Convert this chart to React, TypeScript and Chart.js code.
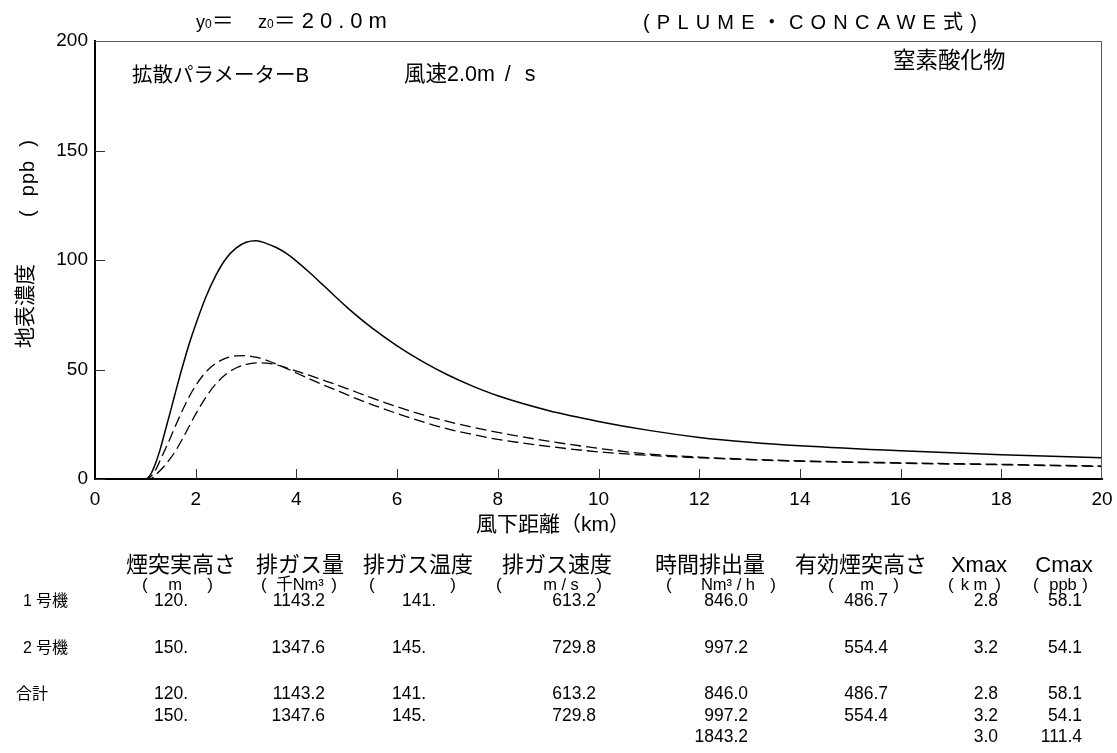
import React, { useEffect, useRef } from 'react';
import { Chart, registerables } from 'chart.js';

Chart.register(...registerables);

// ---------------- DATA ----------------
const distanceKm = [0, 0.5, 1.0, 1.1, 1.2, 1.3, 1.4, 1.5, 1.6, 1.7, 1.8, 1.9, 2.0, 2.2, 2.4, 2.6, 2.8, 3.0, 3.2, 3.4, 3.6, 3.8, 4.0, 4.25, 4.5, 4.75, 5.0, 5.5, 6.0, 6.5, 7.0, 7.5, 8.0, 9.0, 10.0, 11.0, 12.0, 13.0, 14.0, 16.0, 18.0, 20.0];
const totalPpb = [0, 0, 0, 2, 7, 14, 22.5, 31, 39.8, 48.3, 56.3, 63.8, 70.6, 83, 93, 100.6, 105.4, 108.1, 108.8, 107.6, 105.7, 103.0, 99.5, 94.5, 89.2, 83.8, 78.5, 69.0, 60.8, 53.7, 47.6, 42.4, 38.0, 31.3, 26.3, 22.2, 19.0, 16.8, 15.2, 12.9, 11.1, 9.7];
const unit1Ppb = [0, 0, 0, 1, 4, 8.8, 13.8, 19, 24.3, 29.5, 34.4, 38.8, 42.7, 48.8, 52.8, 55.2, 56.2, 56.3, 55.6, 54.3, 52.5, 50.5, 48.4, 45.8, 43.3, 40.9, 38.5, 34.0, 29.9, 26.2, 22.9, 20.3, 18.1, 14.9, 12.4, 10.8, 9.7, 8.8, 8.1, 7.2, 6.5, 5.7];
const unit2Ppb = [0, 0, 0, 0, 1.8, 4, 6.5, 9.5, 12.8, 16.8, 21, 25.4, 29.6, 37.3, 43.4, 47.8, 50.7, 52.3, 53, 52.9, 52.1, 50.8, 49.3, 47.4, 45.4, 43.4, 41.3, 37.0, 33.0, 29.4, 26.3, 23.6, 21.3, 17.3, 14.0, 11.4, 10.0, 9.0, 8.3, 7.4, 6.7, 5.9];

const xTicks = [0, 2, 4, 6, 8, 10, 12, 14, 16, 18, 20];
const yTicks = [0, 50, 100, 150, 200];

const tableHeaders = ['煙突実高さ', '排ガス量', '排ガス温度', '排ガス速度', '時間排出量', '有効煙突高さ', 'Xmax', 'Cmax'];
const tableUnits = ['m', '千Nm³', '', 'm / s', 'Nm³ / h', 'm', 'k m', 'ppb'];
const rowLabels = ['1号機', '2号機', '合計'];
const unit1Row = ['120.', '1143.2', '141.', '613.2', '846.0', '486.7', '2.8', '58.1'];
const unit2Row = ['150.', '1347.6', '145.', '729.8', '997.2', '554.4', '3.2', '54.1'];
const sumRow1 = ['120.', '1143.2', '141.', '613.2', '846.0', '486.7', '2.8', '58.1'];
const sumRow2 = ['150.', '1347.6', '145.', '729.8', '997.2', '554.4', '3.2', '54.1'];
const sumRow3 = ['', '', '', '', '1843.2', '', '3.0', '111.4'];

// ---------------- LAYOUT ----------------
const W = 1117;
const H = 753;
const PLOT_LEFT = 95;
const PLOT_TOP = 41;
const PLOT_RIGHT = 1102;
const PLOT_BOTTOM = 479;

const headerCenters = [181, 300, 418, 557, 710, 861, 979, 1064];
const parenLeft = [142, 261, 369, 496, 666, 828, 948, 1033];
const parenRight = [213, 337, 456, 602, 776, 899, 1001, 1088];
const unitCenters = [175, 300, 412, 561, 728, 867, 974, 1063];
const valueRight = [188, 325, 426, 596, 748, 888, 998, 1082];
const firstRowShift = [0, 0, 10, 0, 0, 0, 0, 0];

const FONT = '"Liberation Sans", "Noto Sans CJK JP", Arial, sans-serif';

type TProps = {
  x: number;
  y: number;
  align?: 'left' | 'center' | 'right';
  size: number;
  ls?: number;
  children: React.ReactNode;
  style?: React.CSSProperties;
};

function T({ x, y, align = 'left', size, ls = 0, children, style }: TProps) {
  const tx = align === 'left' ? '0' : align === 'center' ? '-50%' : '-100%';
  return (
    <div
      style={{
        position: 'absolute',
        left: x,
        top: y,
        transform: `translate(${tx}, -50%)`,
        fontSize: size,
        letterSpacing: ls,
        lineHeight: 1,
        whiteSpace: 'pre',
        fontFamily: FONT,
        color: '#000',
        ...style,
      }}
    >
      {children}
    </div>
  );
}

const frameTicks = {
  id: 'frameTicks',
  afterDraw(chart: any) {
    const { ctx, chartArea: a, scales } = chart;
    const x = scales.x;
    const y = scales.y;
    ctx.save();
    ctx.strokeStyle = '#555';
    ctx.lineWidth = 1;
    ctx.beginPath();
    ctx.moveTo(a.left, Math.round(a.top) + 0.5);
    ctx.lineTo(Math.round(a.right) - 0.5, Math.round(a.top) + 0.5);
    ctx.lineTo(Math.round(a.right) - 0.5, a.bottom);
    ctx.stroke();
    ctx.strokeStyle = '#333';
    ctx.beginPath();
    x.ticks.forEach((t: any) => {
      if (t.value <= x.min || t.value >= x.max) return;
      const px = Math.round(x.getPixelForValue(t.value)) + 0.5;
      ctx.moveTo(px, a.bottom);
      ctx.lineTo(px, a.bottom - 10);
    });
    y.ticks.forEach((t: any) => {
      if (t.value >= y.max) return;
      const py = Math.round(y.getPixelForValue(t.value)) + 0.5;
      ctx.moveTo(a.left, py);
      ctx.lineTo(a.left + 10, py);
    });
    ctx.stroke();
    ctx.restore();
  },
};

function ChartCanvas() {
  const ref = useRef<HTMLCanvasElement | null>(null);
  useEffect(() => {
    if (!ref.current) return;
    const mk = (vals: number[]) => distanceKm.map((d, i) => ({ x: d, y: vals[i] }));
    const chart = new Chart(ref.current, {
      type: 'line',
      data: {
        datasets: [
          {
            label: '合計',
            data: mk(totalPpb),
            borderColor: '#000',
            borderWidth: 1.5,
            pointRadius: 0,
            cubicInterpolationMode: 'monotone',
            fill: false,
          },
          {
            label: '1号機',
            data: mk(unit1Ppb),
            borderColor: '#000',
            borderWidth: 1.3,
            borderDash: [11, 5],
            pointRadius: 0,
            cubicInterpolationMode: 'monotone',
            fill: false,
          },
          {
            label: '2号機',
            data: mk(unit2Ppb),
            borderColor: '#000',
            borderWidth: 1.3,
            borderDash: [11, 5],
            pointRadius: 0,
            cubicInterpolationMode: 'monotone',
            fill: false,
          },
        ],
      },
      options: {
        animation: false,
        responsive: false,
        devicePixelRatio: 1,
        layout: { padding: { top: PLOT_TOP, right: W - PLOT_RIGHT, left: 0, bottom: 0 } },
        plugins: { legend: { display: false }, tooltip: { enabled: false }, title: { display: false } },
        scales: {
          x: {
            type: 'linear',
            min: 0,
            max: 20,
            afterBuildTicks: (s: any) => {
              s.ticks = xTicks.map((v) => ({ value: v }));
            },
            afterFit: (s: any) => {
              s.height = H - PLOT_BOTTOM;
              s.paddingLeft = 0;
              s.paddingRight = 0;
            },
            ticks: {
              autoSkip: false,
              maxRotation: 0,
              padding: 9,
              color: '#000',
              font: { family: FONT, size: 19 },
            },
            grid: { display: false, drawTicks: false },
            border: { display: true, color: '#000', width: 2 },
          },
          y: {
            type: 'linear',
            min: 0,
            max: 200,
            afterBuildTicks: (s: any) => {
              s.ticks = yTicks.map((v) => ({ value: v }));
            },
            afterFit: (s: any) => {
              s.width = PLOT_LEFT;
              s.paddingTop = 0;
              s.paddingBottom = 0;
            },
            ticks: {
              autoSkip: false,
              padding: 7,
              color: '#000',
              font: { family: FONT, size: 19 },
            },
            grid: { display: false, drawTicks: false },
            border: { display: true, color: '#000', width: 2 },
          },
        },
      },
      plugins: [frameTicks],
    });
    return () => chart.destroy();
  }, []);
  return <canvas ref={ref} width={W} height={H} style={{ position: 'absolute', left: 0, top: 0, width: W, height: H }} />;
}

export default function App() {
  useEffect(() => {
    document.body.style.margin = '0';
  }, []);
  const rowYs = [601, 648];
  const sumYs = [694, 716, 737];
  const sumRows = [sumRow1, sumRow2, sumRow3];
  const lineStyle: React.CSSProperties = { position: 'absolute', top: 21, transform: 'translateY(-50%)', whiteSpace: 'pre', lineHeight: 1, fontFamily: FONT };
  return (
    <div style={{ position: 'relative', width: W, height: H, background: '#fff', overflow: 'hidden', fontFamily: FONT }}>
      <ChartCanvas />
      {/* top header */}
      <div style={{ ...lineStyle, left: 196 }}>
        <span style={{ fontSize: 18 }}>y</span>
        <span style={{ fontSize: 12 }}>0</span>
        <span style={{ fontSize: 22 }}>＝</span>
      </div>
      <div style={{ ...lineStyle, left: 258 }}>
        <span style={{ fontSize: 18 }}>z</span>
        <span style={{ fontSize: 12 }}>0</span>
        <span style={{ fontSize: 22, letterSpacing: 6 }}>＝20.0m</span>
      </div>
      <T x={643} y={22} size={20} ls={7.2}>(PLUME・CONCAWE式)</T>
      {/* in-plot annotations */}
      <T x={132} y={75} size={20.5}>拡散パラメーターB</T>
      <T x={404} y={75} size={21.5}>
        風速2.0m<span style={{ letterSpacing: 4 }}>{' / s'}</span>
      </T>
      <T x={893} y={61} size={22.5}>窒素酸化物</T>
      {/* axis titles */}
      <T x={553} y={523} size={21} align="center">風下距離（km）</T>
      <div style={{ position: 'absolute', left: 24, top: 306, transform: 'translate(-50%, -50%) rotate(-90deg)', fontSize: 21, lineHeight: 1, whiteSpace: 'pre', fontFamily: FONT }}>地表濃度</div>
      <div style={{ position: 'absolute', left: 27, top: 178, transform: 'translate(-50%, -50%) rotate(-90deg)', fontSize: 20, letterSpacing: 1, lineHeight: 1, whiteSpace: 'pre', fontFamily: FONT }}>(  ppb  )</div>
      {/* table headers */}
      {tableHeaders.map((h, i) => (
        <T key={'h' + i} x={headerCenters[i]} y={565} size={22} align="center">{h}</T>
      ))}
      {tableUnits.map((u, i) => (
        <React.Fragment key={'u' + i}>
          <T x={parenLeft[i]} y={584} size={17}>(</T>
          {u ? <T x={unitCenters[i]} y={584} size={16.5} align="center">{u}</T> : null}
          <T x={parenRight[i]} y={584} size={17} align="right">)</T>
        </React.Fragment>
      ))}
      {/* rows */}
      <T x={23} y={rowYs[0]} size={16}>
        <span style={{ marginRight: 4 }}>1</span>号機
      </T>
      <T x={23} y={rowYs[1]} size={16}>
        <span style={{ marginRight: 4 }}>2</span>号機
      </T>
      <T x={16} y={sumYs[0]} size={16}>{rowLabels[2]}</T>
      {unit1Row.map((v, i) => (
        <T key={'r1' + i} x={valueRight[i] + firstRowShift[i]} y={rowYs[0]} size={17.5} align="right">{v}</T>
      ))}
      {unit2Row.map((v, i) => (
        <T key={'r2' + i} x={valueRight[i]} y={rowYs[1]} size={17.5} align="right">{v}</T>
      ))}
      {sumRows.map((row, r) =>
        row.map((v, i) => (v ? <T key={'s' + r + '_' + i} x={valueRight[i]} y={sumYs[r]} size={17.5} align="right">{v}</T> : null))
      )}
    </div>
  );
}
